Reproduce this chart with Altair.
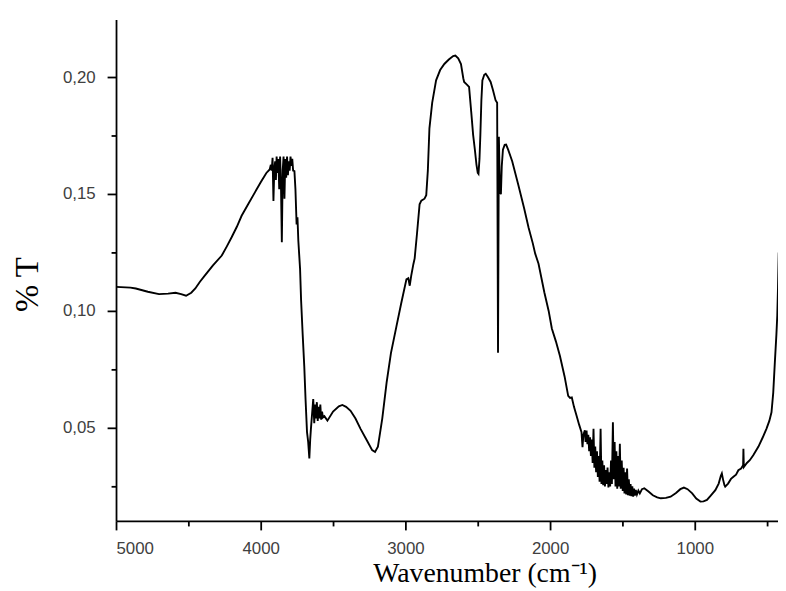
import altair as alt
import pandas as pd

# FTIR spectrum (wavenumber in cm-1, %T)
wavenumber = [
    5000, 4900, 4863, 4780, 4703, 4640, 4589, 4550, 4516, 4480, 4452, 4420, 4384,
    4330, 4269, 4235, 4201, 4165, 4132, 4085, 4041, 4000, 3961, 3938,
    3930, 3924, 3918, 3912, 3906, 3900, 3895, 3890, 3884, 3878, 3872, 3866, 3860,
    3854, 3848, 3842, 3836, 3830, 3824, 3818, 3812, 3806, 3800, 3794, 3788, 3782,
    3776, 3767, 3760, 3752, 3746, 3740, 3734, 3728, 3721, 3710, 3699, 3690, 3680,
    3672, 3664, 3658, 3653, 3645, 3637, 3630, 3624, 3618, 3612, 3606, 3600, 3594,
    3588, 3582, 3576, 3570, 3560, 3539, 3500, 3460, 3436, 3410, 3379, 3345, 3310,
    3265, 3230, 3210, 3190, 3160, 3130, 3100, 3062, 3030, 2993, 2980, 2970, 2960,
    2945, 2936, 2920, 2902, 2890, 2868, 2856, 2845, 2834, 2815, 2788, 2760, 2731,
    2700, 2670, 2655, 2635, 2616, 2600, 2594, 2575, 2560, 2545, 2532, 2520, 2509,
    2500, 2495, 2488, 2482, 2475, 2468, 2455, 2445, 2430, 2411, 2395, 2377, 2366,
    2360, 2354, 2347, 2340, 2334, 2326, 2314, 2304, 2290, 2262, 2220, 2180, 2149,
    2120, 2103, 2080, 2040, 2010, 1988, 1960, 1932, 1900, 1875, 1862, 1850, 1835,
    1817, 1800, 1783, 1776, 1770, 1760,
    1755, 1748, 1742, 1736, 1730, 1724, 1718, 1712, 1706, 1700, 1694, 1688, 1682,
    1676, 1670, 1664, 1658, 1651, 1645, 1639, 1633, 1627, 1621, 1615, 1609, 1603,
    1597, 1591, 1585, 1579, 1573, 1566, 1560, 1554, 1548, 1542, 1536, 1530, 1524,
    1518, 1512, 1505, 1498, 1492, 1486, 1480, 1474, 1468, 1462, 1456, 1450, 1444,
    1438, 1432, 1426, 1420, 1414, 1408, 1400, 1390, 1380, 1365, 1349,
    1320, 1290, 1260, 1235, 1200, 1167, 1130, 1100, 1075, 1050, 1018, 990, 961,
    940, 916, 890, 858, 835, 820, 813, 805, 795, 790, 770, 750, 733, 715, 699,
    680, 666, 664, 661, 640, 620, 596, 560, 530, 505, 485, 470, 458, 447, 436,
    430, 425, 420,
]
transmittance = [
    0.1103, 0.1100, 0.1096, 0.1082, 0.1072, 0.1074, 0.1078, 0.1072, 0.1065, 0.1078,
    0.1096, 0.1125, 0.1153, 0.1195, 0.1237, 0.1275, 0.1315, 0.1360, 0.1407, 0.1458,
    0.1506, 0.1550, 0.1590, 0.1605,
    0.1625, 0.1600, 0.1655, 0.1470, 0.1610, 0.1640, 0.1560, 0.1660, 0.1590, 0.1650,
    0.1520, 0.1660, 0.1540, 0.1294, 0.1600, 0.1660, 0.1480, 0.1650, 0.1570, 0.1660,
    0.1580, 0.1640, 0.1600, 0.1660, 0.1620, 0.1650, 0.1600, 0.1598, 0.1520, 0.1370,
    0.1400, 0.1300, 0.1240, 0.1180, 0.1047, 0.0900, 0.0764, 0.0620, 0.0482, 0.0440,
    0.0369, 0.0450, 0.0496, 0.0560, 0.0623, 0.0520, 0.0600, 0.0540, 0.0610, 0.0530,
    0.0590, 0.0540, 0.0600, 0.0535, 0.0570, 0.0545, 0.0550, 0.0531, 0.0570, 0.0592,
    0.0598, 0.0590, 0.0573, 0.0540, 0.0496, 0.0445, 0.0405, 0.0397, 0.0420, 0.0540,
    0.0694, 0.0820, 0.0934, 0.1030, 0.1135, 0.1140, 0.1108, 0.1150, 0.1200, 0.1225,
    0.1330, 0.1456, 0.1472, 0.1480, 0.1495, 0.1600, 0.1781, 0.1890, 0.1986, 0.2030,
    0.2056, 0.2075, 0.2090, 0.2092, 0.2080, 0.2056, 0.1995, 0.1979, 0.1968, 0.1958,
    0.1850, 0.1753, 0.1690, 0.1626, 0.1590, 0.1586, 0.1650, 0.1753, 0.1900, 0.1986,
    0.2010, 0.2014, 0.2000, 0.1979, 0.1945, 0.1901, 0.1890, 0.0821, 0.1745, 0.1510,
    0.1499, 0.1620, 0.1690, 0.1710, 0.1711, 0.1690, 0.1640, 0.1540, 0.1440, 0.1357,
    0.1290, 0.1245, 0.1202, 0.1080, 0.1000, 0.0925, 0.0870, 0.0807, 0.0720, 0.0637,
    0.0628, 0.0630, 0.0590, 0.0552, 0.0515, 0.0482, 0.0418, 0.0470, 0.0490,
    0.0440, 0.0489, 0.0430, 0.0470, 0.0400, 0.0460, 0.0380, 0.0450, 0.0350, 0.0496,
    0.0330, 0.0420, 0.0310, 0.0400, 0.0290, 0.0380, 0.0270, 0.0496, 0.0260, 0.0360,
    0.0255, 0.0340, 0.0250, 0.0320, 0.0260, 0.0330, 0.0245, 0.0310, 0.0250, 0.0360,
    0.0260, 0.0524, 0.0280, 0.0440, 0.0250, 0.0400, 0.0240, 0.0380, 0.0250, 0.0432,
    0.0240, 0.0360, 0.0230, 0.0330, 0.0220, 0.0310, 0.0215, 0.0326, 0.0212, 0.0280,
    0.0210, 0.0260, 0.0208, 0.0250, 0.0206, 0.0240, 0.0210, 0.0235, 0.0215, 0.0232,
    0.0220, 0.0238, 0.0242,
    0.0228, 0.0212, 0.0203, 0.0199, 0.0201, 0.0206, 0.0222, 0.0238, 0.0245, 0.0238,
    0.0220, 0.0198, 0.0185, 0.0186, 0.0192, 0.0210, 0.0234, 0.0262, 0.0295, 0.0305,
    0.0280, 0.0255, 0.0249, 0.0262, 0.0282, 0.0291, 0.0300, 0.0319, 0.0326, 0.0340,
    0.0411, 0.0333, 0.0350, 0.0362, 0.0383, 0.0420, 0.0460, 0.0496, 0.0530, 0.0567,
    0.0650, 0.0778, 0.0900, 0.0980, 0.1100, 0.1250,
]

x_ticks = [5000, 4500, 4000, 3500, 3000, 2500, 2000, 1500, 1000, 500]
y_ticks = [0.025, 0.05, 0.075, 0.10, 0.125, 0.15, 0.175, 0.20]

df = pd.DataFrame({"wn": wavenumber, "T": transmittance})

espectro = alt.Chart(df).mark_line(color="black", strokeWidth=1.9, clip=True).encode(
    x=alt.X(
        "wn:Q",
        scale=alt.Scale(domain=[5000, 425], nice=False, zero=False),
        axis=alt.Axis(
            values=x_ticks,
            labelExpr="datum.value % 1000 === 0 ? format(datum.value, 'd') : ''",
            tickSize={"condition": {"test": "datum.value % 1000 === 0", "value": 9}, "value": 5},
            title="Wavenumber (cm⁻¹)",
            titleFont="Liberation Serif",
            titleFontSize=28,
            titleFontWeight="normal",
            titleColor="black",
            titleX=372,
            titleY=61,
            titleAlign="center",
            titleBaseline="alphabetic",
            labelPadding=11,
        ),
    ),
    y=alt.Y(
        "T:Q",
        scale=alt.Scale(domain=[0.0102, 0.2246], nice=False, zero=False),
        axis=alt.Axis(
            values=y_ticks,
            labelExpr="round(datum.value * 1000) % 50 === 0 ? replace(format(datum.value, '.2f'), '.', ',') : ''",
            tickSize={"condition": {"test": "round(datum.value * 1000) % 50 === 0", "value": 9}, "value": 5},
            title="% T",
            titleFont="Liberation Serif",
            titleFontSize=33,
            titleFontWeight="normal",
            titleColor="black",
            titleAngle=270,
            titleX=-89,
            titleY=267,
            titleAlign="center",
            titleBaseline="middle",
            labelPadding=12,
        ),
    ),
).properties(
    width=668,
    height=506,
    autosize="none",
    padding={"left": 109, "top": 9, "right": 0, "bottom": 67},
)

chart = espectro.configure_view(stroke=None).configure_axis(
    grid=False,
    domainColor="black",
    domainWidth=1.8,
    tickColor="black",
    tickWidth=1.8,
    labelFont="Liberation Sans",
    labelFontSize=17,
    labelColor="#404040",
)

chart.save("out.html", embed_options={"renderer": "svg", "actions": False})
